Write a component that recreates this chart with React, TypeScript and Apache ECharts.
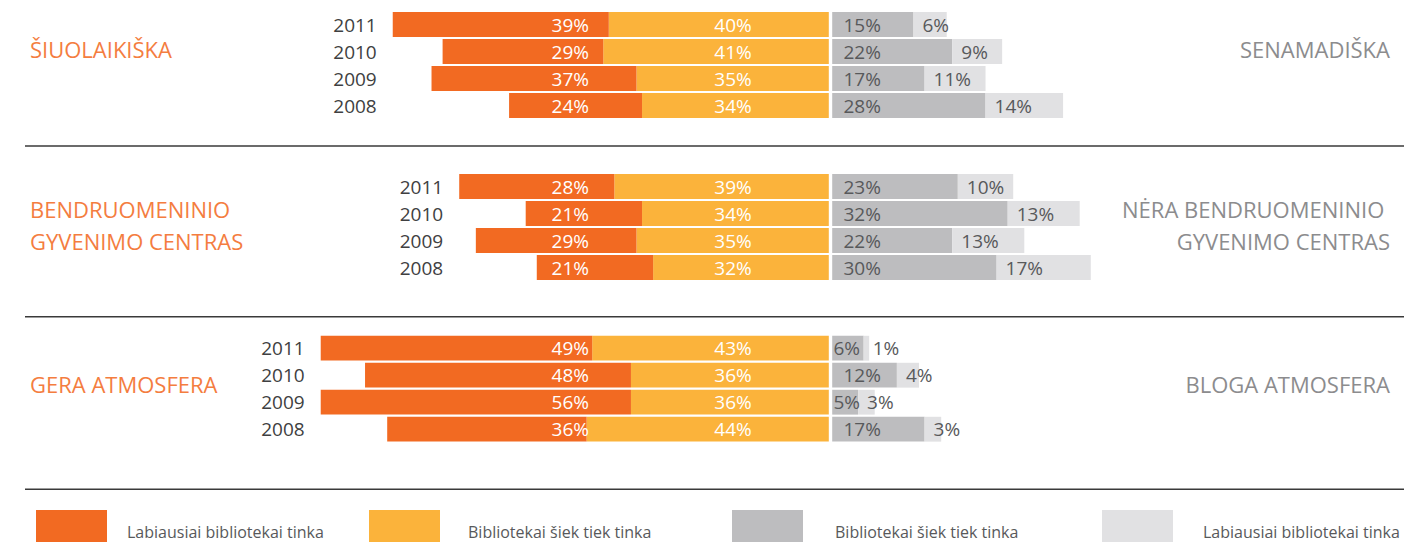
import React, { useEffect, useRef } from "react";
import * as echarts from "echarts";

// ---------- data ----------
const YEARS = ["2011", "2010", "2009", "2008"];
const GROUP_LEFT_LABELS = ["ŠIUOLAIKIŠKA", "BENDRUOMENINIO\nGYVENIMO CENTRAS", "GERA ATMOSFERA"];
const GROUP_RIGHT_LABELS = ["SENAMADIŠKA", "NĖRA BENDRUOMENINIO \nGYVENIMO CENTRAS", "BLOGA ATMOSFERA"];
// per group, per year (2011, 2010, 2009, 2008)
const MOST_FITS = [
  [39, 29, 37, 24],
  [28, 21, 29, 21],
  [49, 48, 56, 36],
];
const SOMEWHAT_FITS = [
  [40, 41, 35, 34],
  [39, 34, 35, 32],
  [43, 36, 36, 44],
];
const SOMEWHAT_OPPOSITE = [
  [15, 22, 17, 28],
  [23, 32, 22, 30],
  [6, 12, 5, 17],
];
const MOST_OPPOSITE = [
  [6, 9, 11, 14],
  [10, 13, 13, 17],
  [1, 4, 3, 3],
];
const LEGEND_NAMES = [
  "Labiausiai bibliotekai tinka",
  "Bibliotekai šiek tiek tinka",
  "Bibliotekai šiek tiek tinka",
  "Labiausiai bibliotekai tinka",
];

// ---------- styles / layout ----------
const COLORS = ["#F26A22", "#FBB33B", "#BDBDBF", "#E1E1E3"];
const FONT = "'Open Sans', 'Noto Sans', sans-serif";
const PX_PER_PCT = 5.54;
const CENTER_X = 830.4;
const RIGHT_MAX = 60;
const GRID_TOPS = [11, 173, 334.7];
const GRID_HEIGHT = 108;
const ORANGE_LABEL_RIGHT = 589;
const YELLOW_LABEL_CENTER = 733;
const LEFT_LABEL_Y = [49, 225, 384];
const RIGHT_LABEL_Y = [49, 225, 384];
const SEPARATOR_Y = [146, 316.7, 489.3];
const LEGEND_LEFT = [36, 369, 732, 1102];
const LEGEND_TEXT_GAP = [20, 28, 32, 30];
const LEGEND_TEXT_LIFT = [0, 6, 0, 6];

function buildOption() {
  const grids: any[] = [];
  const xAxes: any[] = [];
  const yAxes: any[] = [];
  const series: any[] = [];

  const pctFormatter = (p: any) => Math.abs(p.value) + "%";
  const fixedColumn = (x: number, align: string) => (params: any) => ({
    x,
    y: params.rect.y + params.rect.height / 2,
    align,
    verticalAlign: "middle",
  });
  const greyLabelLayout = (params: any) => {
    const r = params.rect;
    const w = params.labelRect.width;
    const pad = r.width < w + 16 ? 3 : 13;
    return {
      x: r.x + pad,
      y: r.y + r.height / 2,
      align: "left",
      verticalAlign: "middle",
    };
  };

  MOST_FITS.forEach((most, g) => {
    const leftTotals = most.map((v, i) => v + SOMEWHAT_FITS[g][i]);
    const maxLeft = Math.max(...leftTotals);
    grids.push({
      left: CENTER_X - maxLeft * PX_PER_PCT,
      top: GRID_TOPS[g],
      width: (maxLeft + RIGHT_MAX) * PX_PER_PCT,
      height: GRID_HEIGHT,
      containLabel: false,
    });
    xAxes.push({
      type: "value",
      gridIndex: g,
      min: -maxLeft,
      max: RIGHT_MAX,
      show: false,
      splitLine: { show: false },
    });
    yAxes.push({
      type: "category",
      gridIndex: g,
      inverse: true,
      data: YEARS,
      position: "left",
      axisLine: { show: false, onZero: false },
      axisTick: { show: false },
      splitLine: { show: false },
      axisLabel: {
        color: "#404041",
        fontSize: 19,
        fontFamily: FONT,
        margin: 16,
      },
    });

    const common = {
      type: "bar",
      xAxisIndex: g,
      yAxisIndex: g,
      stack: "g" + g,
      barCategoryGap: "8%",
      emphasis: { disabled: true },
    };

    series.push({
      ...common,
      name: LEGEND_NAMES[1],
      itemStyle: { color: COLORS[1] },
      data: SOMEWHAT_FITS[g].map((v) => -v),
      label: {
        show: true,
        position: "inside",
        formatter: pctFormatter,
        color: "#ffffff",
        fontSize: 19,
        fontFamily: FONT,
      },
      labelLayout: fixedColumn(YELLOW_LABEL_CENTER, "center"),
    });
    series.push({
      ...common,
      name: LEGEND_NAMES[0],
      itemStyle: { color: COLORS[0] },
      data: most.map((v) => -v),
      label: {
        show: true,
        position: "inside",
        formatter: pctFormatter,
        color: "#ffffff",
        fontSize: 19,
        fontFamily: FONT,
      },
      labelLayout: fixedColumn(ORANGE_LABEL_RIGHT, "right"),
    });
    series.push({
      ...common,
      name: LEGEND_NAMES[2],
      itemStyle: { color: COLORS[2] },
      data: SOMEWHAT_OPPOSITE[g],
      label: {
        show: true,
        position: "insideLeft",
        distance: 13,
        formatter: pctFormatter,
        color: "#58595B",
        fontSize: 19,
        fontFamily: FONT,
      },
      labelLayout: greyLabelLayout,
      markLine: {
        silent: true,
        symbol: "none",
        label: { show: false },
        lineStyle: { color: "#ffffff", width: 3.4, type: "solid" },
        data: [{ xAxis: 0 }],
      },
    });
    series.push({
      ...common,
      name: LEGEND_NAMES[3],
      itemStyle: { color: COLORS[3] },
      data: MOST_OPPOSITE[g],
      label: {
        show: true,
        position: "insideLeft",
        distance: 9,
        formatter: pctFormatter,
        color: "#58595B",
        fontSize: 19,
        fontFamily: FONT,
      },
    });
  });

  const graphics: any[] = [];
  GROUP_LEFT_LABELS.forEach((t, g) => {
    graphics.push({
      type: "text",
      x: 30,
      y: LEFT_LABEL_Y[g],
      style: {
        text: t,
        fill: "#F47D3F",
        font: `22px ${FONT}`,
        lineHeight: 31.5,
        align: "left",
        verticalAlign: "middle",
      },
    });
  });
  GROUP_RIGHT_LABELS.forEach((t, g) => {
    graphics.push({
      type: "text",
      x: 1390,
      y: RIGHT_LABEL_Y[g],
      style: {
        text: t,
        fill: "#8C8C8E",
        font: `22px ${FONT}`,
        lineHeight: 31.5,
        align: "right",
        verticalAlign: "middle",
      },
    });
  });
  SEPARATOR_Y.forEach((y) => {
    graphics.push({
      type: "line",
      shape: { x1: 25, y1: y, x2: 1404, y2: y },
      style: { stroke: "#3A3A3A", lineWidth: 1.5 },
    });
  });

  const legends = LEGEND_NAMES.map((name, i) => ({
    data: [{ name, itemStyle: { color: COLORS[i] } }],
    left: LEGEND_LEFT[i],
    top: 510,
    padding: 0,
    itemWidth: 71,
    itemHeight: 44,
    icon: "rect",
    selectedMode: false,
    textStyle: {
      fontFamily: FONT,
      fontSize: 16,
      color: "#58595B",
      padding: [0, 0, LEGEND_TEXT_LIFT[i], LEGEND_TEXT_GAP[i] - 5],
    },
  }));

  return {
    animation: false,
    backgroundColor: "#ffffff",
    tooltip: { show: false },
    grid: grids,
    xAxis: xAxes,
    yAxis: yAxes,
    legend: legends,
    series,
    graphic: graphics,
  };
}

export default function App() {
  const ref = useRef<HTMLDivElement>(null);
  useEffect(() => {
    if (!ref.current) return;
    const chart = echarts.init(ref.current, undefined, { renderer: "svg" });
    chart.setOption(buildOption() as any);
    return () => chart.dispose();
  }, []);
  return (
    <div
      ref={ref}
      style={{ position: "absolute", left: 0, top: 0, width: 1427, height: 542 }}
    />
  );
}
